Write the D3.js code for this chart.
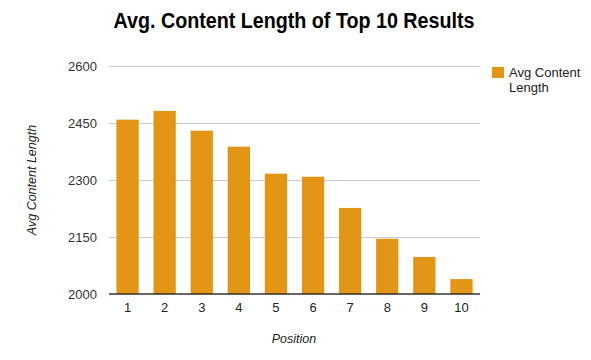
<!DOCTYPE html>
<html><head><meta charset="utf-8">
<script src="https://cdn.jsdelivr.net/npm/d3@7"></script>
<style>body{margin:0;background:#fff}svg{display:block}</style>
</head><body><svg id="c" width="591" height="360"></svg>
<script>
const categories = ["1","2","3","4","5","6","7","8","9","10"];
const values = [2459, 2482, 2430, 2388, 2317, 2309, 2227, 2146, 2098, 2040];
const yTicks = [2000, 2150, 2300, 2450, 2600];
const title = "Avg. Content Length of Top 10 Results";
const seriesName = "Avg Content Length";

const svg = d3.select("#c");
const m = {l:109, r:480, t:66, b:294.3};
const x = d3.scaleBand().domain(categories).range([m.l, m.r]).paddingInner(0.4).paddingOuter(0.2);
const y = d3.scaleLinear().domain([2000, 2600]).range([m.b, m.t]);
const font = "Arial, 'Liberation Sans', sans-serif";

// gridlines
svg.append("g").selectAll("line").data(yTicks.slice(1)).join("line")
  .attr("x1", m.l).attr("x2", m.r)
  .attr("y1", d => Math.round(y(d))+0.5).attr("y2", d => Math.round(y(d))+0.5)
  .attr("stroke", "#cccccc").attr("stroke-width", 1);

// bars
svg.append("g").selectAll("rect").data(values).join("rect")
  .attr("x", (d,i) => x(categories[i]))
  .attr("width", x.bandwidth())
  .attr("y", d => y(d))
  .attr("height", d => y(2000) - y(d))
  .attr("fill", "#e39516");

// x axis
const xa = svg.append("g").attr("transform", `translate(0,${Math.round(m.b)})`)
  .call(d3.axisBottom(x).tickSize(0).tickPadding(9));
xa.select(".domain").attr("stroke", "#333").attr("stroke-width", 1.5).attr("d", `M${m.l},0H${m.r}`);
xa.selectAll("text").attr("font-family", font).attr("font-size", 13).attr("fill", "#222");

// y axis
const ya = svg.append("g").attr("transform", `translate(${m.l},0)`)
  .call(d3.axisLeft(y).tickValues(yTicks).tickSize(0).tickPadding(12).tickFormat(d3.format("d")));
ya.select(".domain").remove();
ya.selectAll("text").attr("font-family", font).attr("font-size", 13).attr("fill", "#333");

// title
const t = svg.append("text").attr("x", 294).attr("y", 28).attr("text-anchor", "middle")
  .attr("font-family", "'Liberation Sans Narrow', 'Arial Narrow', Arial, sans-serif")
  .attr("font-weight", "bold").attr("font-size", 22).attr("fill", "#000").text(title);
const tl = t.node().getComputedTextLength();
if (Math.abs(tl - 361) > 6) t.attr("textLength", 361).attr("lengthAdjust", "spacingAndGlyphs");

// axis titles
svg.append("text").attr("transform", "translate(36,180) rotate(-90)").attr("text-anchor", "middle")
  .attr("font-family", font).attr("font-style", "italic").attr("font-size", 12.5).attr("fill", "#222")
  .text("Avg Content Length");
svg.append("text").attr("x", 294).attr("y", 343).attr("text-anchor", "middle")
  .attr("font-family", font).attr("font-style", "italic").attr("font-size", 12.5).attr("fill", "#222")
  .text("Position");

// legend
const lg = svg.append("g");
lg.append("rect").attr("x", 492).attr("y", 67).attr("width", 12).attr("height", 11).attr("fill", "#e39516");
const words = seriesName.split(" ");
const lt = lg.append("text").attr("font-family", font).attr("font-size", 13).attr("fill", "#222");
lt.append("tspan").attr("x", 509).attr("y", 77).text(words.slice(0,2).join(" "));
lt.append("tspan").attr("x", 509).attr("y", 92).text(words.slice(2).join(" "));
</script></body></html>
